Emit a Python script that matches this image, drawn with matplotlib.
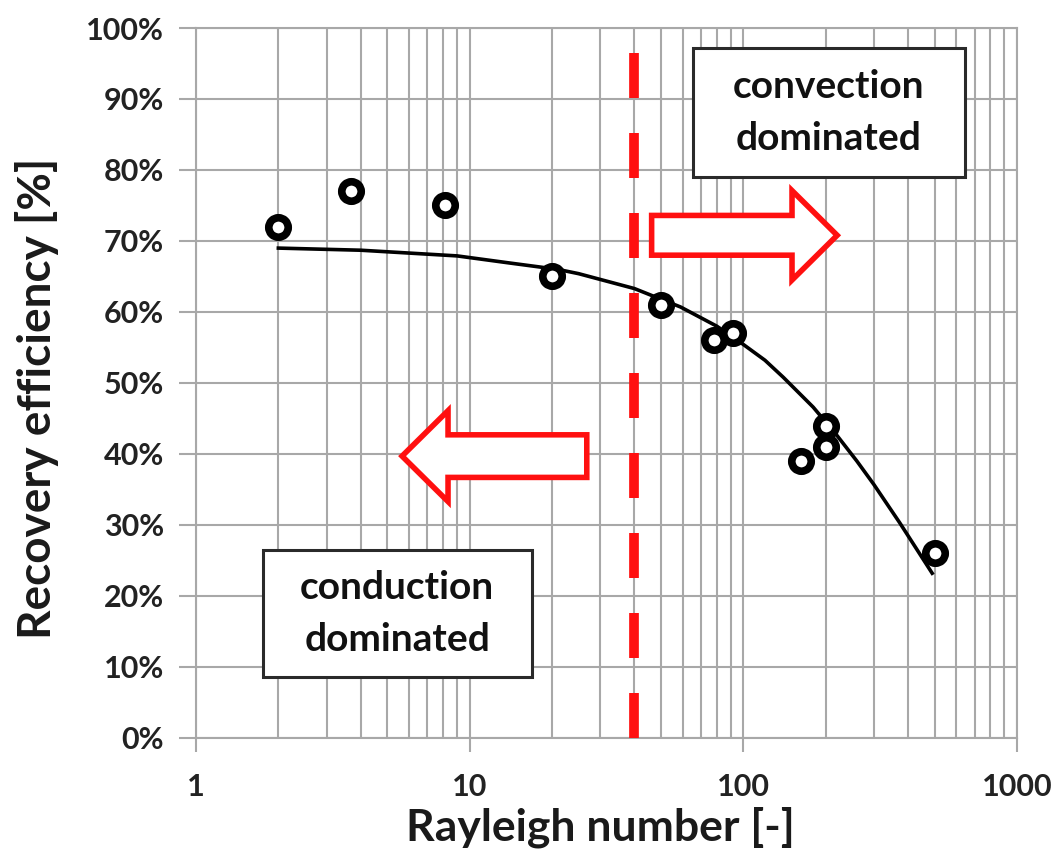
import numpy as np
import matplotlib
matplotlib.use('Agg')
import matplotlib.pyplot as plt
from matplotlib.patches import Polygon, Rectangle

plt.rcParams['font.family'] = ['Lato', 'DejaVu Sans']
plt.rcParams['lines.scale_dashes'] = False

# measured points
ra = [2, 3.7, 8.1, 20, 50, 78, 92, 163, 200, 200, 500]
eff = [72, 77, 75, 65, 61, 56, 57, 39, 44, 41, 26]

# trend line
fit_ra = [2, 4, 9, 14, 21, 25, 40, 59, 80, 97, 120, 140, 180, 220, 260, 300, 373, 430, 490]
fit_eff = [69.0, 68.7, 67.9, 66.9, 66.0, 65.4, 63.3, 60.7, 58.0, 55.8, 53.2, 50.8, 46.6,
           42.6, 39.0, 35.7, 30.3, 26.6, 23.2]

ra_crit = 40
y_ticks = list(range(0, 101, 10))
x_ticks = [1, 10, 100, 1000]

grid_col = '#a8a8a8'
red = '#ff1010'

fig = plt.figure(figsize=(10.6, 8.59), dpi=100)
ax = fig.add_axes([0.1849, 0.1409, 0.9594 - 0.1849, 0.9674 - 0.1409])

ax.set_xscale('log')
ax.set_xlim(1, 1000)
ax.set_ylim(0, 100)

ax.set_xticks(x_ticks)
ax.set_xticklabels([str(v) for v in x_ticks])
ax.set_xticks([m * 10 ** d for d in range(3) for m in range(2, 10)], minor=True)
ax.set_xticklabels([], minor=True)
ax.set_yticks(y_ticks)
ax.set_yticklabels(['%d%%' % v for v in y_ticks])

ax.grid(True, which='both', color=grid_col, lw=1.5)
ax.set_axisbelow(True)
for s in ax.spines.values():
    s.set_color(grid_col)
    s.set_linewidth(1.5)

ax.tick_params(axis='x', which='major', length=10, width=1.5, color=grid_col, pad=15,
               labelsize=22)
ax.tick_params(axis='x', which='minor', length=0)
ax.tick_params(axis='y', length=12, width=1.5, color=grid_col, pad=11, labelsize=22)
for lab in ax.get_xticklabels() + ax.get_yticklabels():
    lab.set_fontweight('bold')
    lab.set_color('#222222')

ax.set_xlabel('Rayleigh number [-]', fontsize=32, fontweight='bold', color='#1a1a1a')
ax.set_ylabel('Recovery efficiency [%]', fontsize=33, fontweight='bold', color='#1a1a1a')
ax.xaxis.set_label_coords(0.493, -0.097)
ax.yaxis.set_label_coords(-0.167, 0.479)

# critical Rayleigh number
ax.plot([ra_crit, ra_crit], [0, 100], color=red, lw=7, dashes=(32.4, 25.2),
        solid_capstyle='butt', dash_capstyle='butt', zorder=3)

ax.plot(fit_ra, fit_eff, color='black', lw=2.6, zorder=4)
ax.plot(ra, eff, 'o', ms=14, mfc='white', mec='black', mew=5.5, zorder=5)

# arrows (axes fraction)
def arrow(x0, x1, xh, yc, hb, hh):
    pts = [(x0, yc - hb), (xh, yc - hb), (xh, yc - hh), (x1, yc),
           (xh, yc + hh), (xh, yc + hb), (x0, yc + hb)]
    ax.add_patch(Polygon(pts, closed=True, transform=ax.transAxes, fc='white',
                         ec=red, lw=4, zorder=6, joinstyle='miter'))

arrow(0.555, 0.781, 0.726, 0.708, 0.028, 0.063)
arrow(0.476, 0.251, 0.307, 0.397, 0.030, 0.064)

# text boxes
def box(xc, yc, w, h, txt):
    ax.add_patch(Rectangle((xc - w / 2, yc - h / 2), w, h, transform=ax.transAxes,
                           fc='white', ec='#2a2a2a', lw=2.2, zorder=7))
    ax.text(xc, yc, txt, transform=ax.transAxes, ha='center', va='center',
            fontsize=28, fontweight='bold', linespacing=1.6, zorder=8,
            color='#111111')

box(0.771, 0.881, 272 / 821, 129 / 710, 'convection\ndominated')
box(0.245, 0.175, 269 / 821, 127 / 710, 'conduction\ndominated')

fig.savefig('out.png', dpi=100)
